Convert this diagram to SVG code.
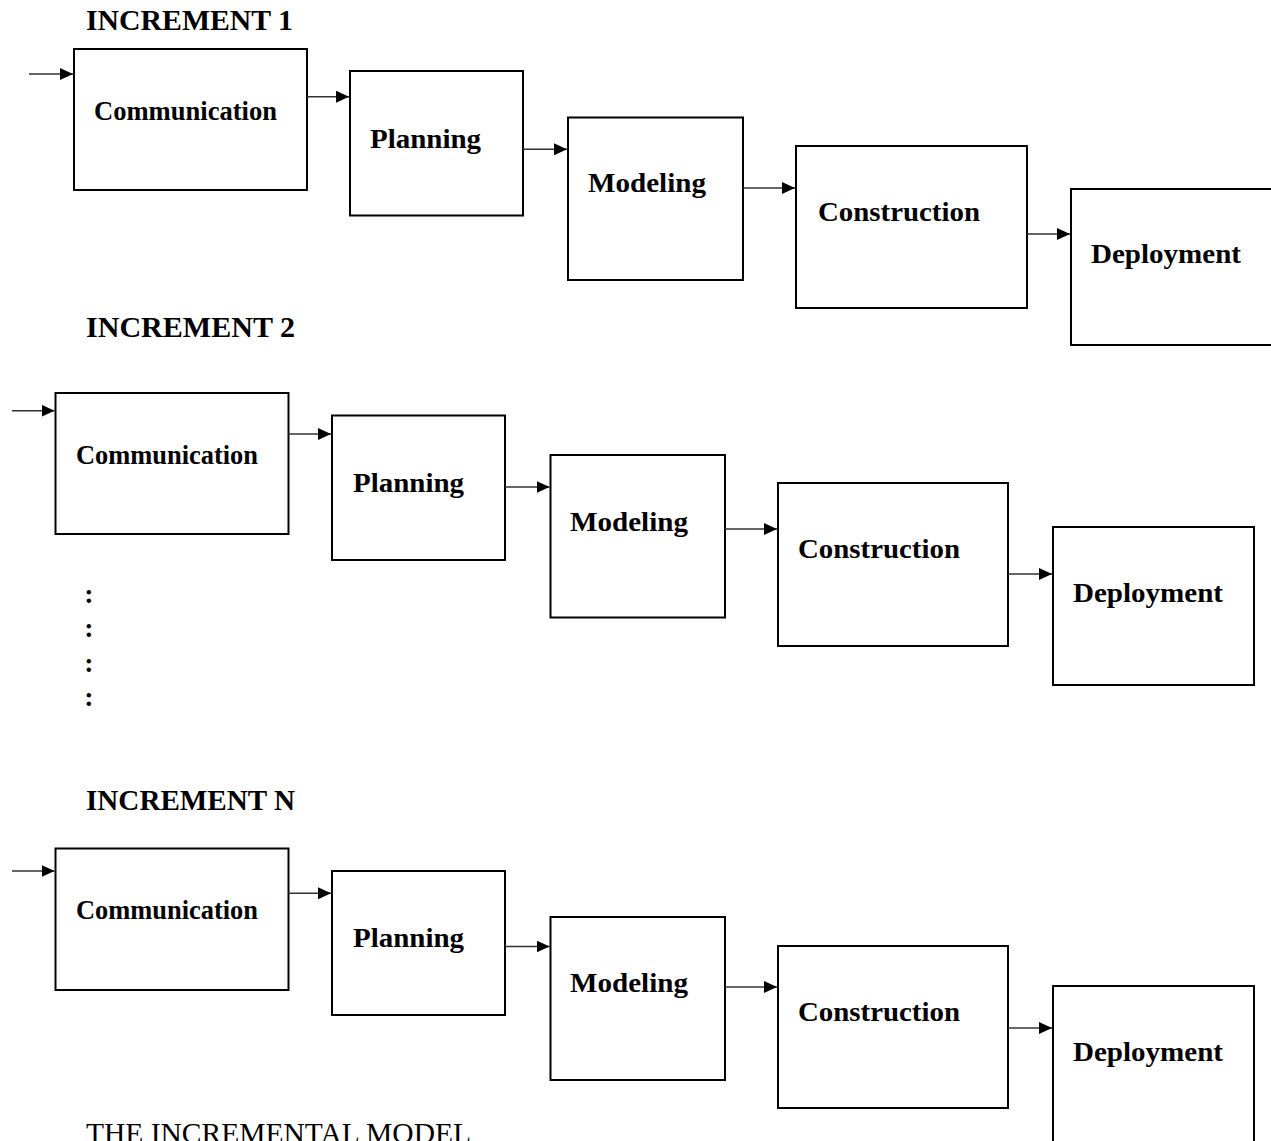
<svg xmlns="http://www.w3.org/2000/svg" width="1271" height="1141" viewBox="0 0 1271 1141">
<style>
.box{fill:#fff;stroke:#000;stroke-width:2}
.lbl{font-family:"Liberation Serif","Times New Roman",serif;font-weight:bold;font-size:27px;fill:#000}
.ttl{font-family:"Liberation Serif","Times New Roman",serif;font-weight:bold;font-size:30px;fill:#000}
.cap{font-family:"Liberation Serif","Times New Roman",serif;font-size:29px;fill:#000}
.dot{font-family:"Liberation Serif","Times New Roman",serif;font-weight:bold;font-size:28px;fill:#000}
.arr{stroke:#333;stroke-width:1.6;fill:none;marker-end:url(#ah)}
</style>
<defs>
<marker id="ah" markerUnits="userSpaceOnUse" markerWidth="14" markerHeight="12" refX="13" refY="6" orient="auto">
<path d="M0,0 L13,6 L0,12 z" fill="#000"/>
</marker>
</defs>
<rect width="1271" height="1141" fill="#fff"/>

<g id="titles">
<text class="ttl" x="86" y="29.5" textLength="207" lengthAdjust="spacingAndGlyphs">INCREMENT  1</text>
<text class="ttl" x="86" y="337" textLength="209" lengthAdjust="spacingAndGlyphs">INCREMENT  2</text>
<text class="ttl" x="86" y="810" textLength="209" lengthAdjust="spacingAndGlyphs">INCREMENT N</text>
<text class="dot" x="89" y="603" text-anchor="middle">:</text>
<text class="dot" x="89" y="637" text-anchor="middle">:</text>
<text class="dot" x="89" y="672" text-anchor="middle">:</text>
<text class="dot" x="89" y="706" text-anchor="middle">:</text>
<text class="cap" x="86" y="1143" textLength="385" lengthAdjust="spacingAndGlyphs">THE INCREMENTAL MODEL</text>
</g>

<!-- Increment 1 -->
<g id="i1-communication"><rect class="box" x="74" y="49" width="233" height="141"/><text class="lbl" x="94" y="120" textLength="183" lengthAdjust="spacingAndGlyphs">Communication</text></g>
<g id="i1-planning"><rect class="box" x="350" y="71" width="173" height="144.5"/><text class="lbl" x="370" y="148" textLength="111" lengthAdjust="spacingAndGlyphs">Planning</text></g>
<g id="i1-modeling"><rect class="box" x="568" y="117.5" width="175" height="162.5"/><text class="lbl" x="588" y="192" textLength="118" lengthAdjust="spacingAndGlyphs">Modeling</text></g>
<g id="i1-construction"><rect class="box" x="796" y="146" width="231" height="162"/><text class="lbl" x="818" y="221" textLength="162" lengthAdjust="spacingAndGlyphs">Construction</text></g>
<g id="i1-deployment"><rect class="box" x="1071" y="189" width="202" height="156"/><text class="lbl" x="1091" y="263" textLength="150" lengthAdjust="spacingAndGlyphs">Deployment</text></g>

<!-- Increment 2 -->
<g id="i2-communication"><rect class="box" x="55.5" y="393" width="233" height="141"/><text class="lbl" x="76" y="463.5" textLength="182" lengthAdjust="spacingAndGlyphs">Communication</text></g>
<g id="i2-planning"><rect class="box" x="332" y="415.5" width="173" height="144.5"/><text class="lbl" x="353" y="492" textLength="111" lengthAdjust="spacingAndGlyphs">Planning</text></g>
<g id="i2-modeling"><rect class="box" x="550.5" y="455" width="174.5" height="162.5"/><text class="lbl" x="570" y="531" textLength="118" lengthAdjust="spacingAndGlyphs">Modeling</text></g>
<g id="i2-construction"><rect class="box" x="778" y="483" width="230" height="163"/><text class="lbl" x="798" y="558" textLength="162" lengthAdjust="spacingAndGlyphs">Construction</text></g>
<g id="i2-deployment"><rect class="box" x="1053" y="527" width="201" height="158"/><text class="lbl" x="1073" y="601.5" textLength="150" lengthAdjust="spacingAndGlyphs">Deployment</text></g>

<!-- Increment N -->
<g id="in-communication"><rect class="box" x="55.5" y="848.5" width="233" height="141.5"/><text class="lbl" x="76" y="919" textLength="182" lengthAdjust="spacingAndGlyphs">Communication</text></g>
<g id="in-planning"><rect class="box" x="332" y="871" width="173" height="144"/><text class="lbl" x="353" y="947" textLength="111" lengthAdjust="spacingAndGlyphs">Planning</text></g>
<g id="in-modeling"><rect class="box" x="550.5" y="917" width="174.5" height="163"/><text class="lbl" x="570" y="992" textLength="118" lengthAdjust="spacingAndGlyphs">Modeling</text></g>
<g id="in-construction"><rect class="box" x="778" y="946" width="230" height="162"/><text class="lbl" x="798" y="1021" textLength="162" lengthAdjust="spacingAndGlyphs">Construction</text></g>
<g id="in-deployment"><rect class="box" x="1053" y="986" width="201" height="160"/><text class="lbl" x="1073" y="1061" textLength="150" lengthAdjust="spacingAndGlyphs">Deployment</text></g>

<g id="connectors">
<line class="arr" x1="29" y1="74" x2="73" y2="74"/>
<line class="arr" x1="307" y1="96.7" x2="349" y2="96.7"/>
<line class="arr" x1="523" y1="149.3" x2="567" y2="149.3"/>
<line class="arr" x1="743" y1="188" x2="795" y2="188"/>
<line class="arr" x1="1027" y1="234" x2="1070" y2="234"/>

<line class="arr" x1="12" y1="410.7" x2="54.5" y2="410.7"/>
<line class="arr" x1="288.5" y1="434" x2="331" y2="434"/>
<line class="arr" x1="505" y1="487" x2="549.5" y2="487"/>
<line class="arr" x1="725" y1="529" x2="777" y2="529"/>
<line class="arr" x1="1008" y1="574" x2="1052" y2="574"/>

<line class="arr" x1="12" y1="871" x2="54.5" y2="871"/>
<line class="arr" x1="288.5" y1="893.3" x2="331" y2="893.3"/>
<line class="arr" x1="505" y1="946.5" x2="549.5" y2="946.5"/>
<line class="arr" x1="725" y1="987" x2="777" y2="987"/>
<line class="arr" x1="1008" y1="1028" x2="1052" y2="1028"/>
</g>
</svg>
